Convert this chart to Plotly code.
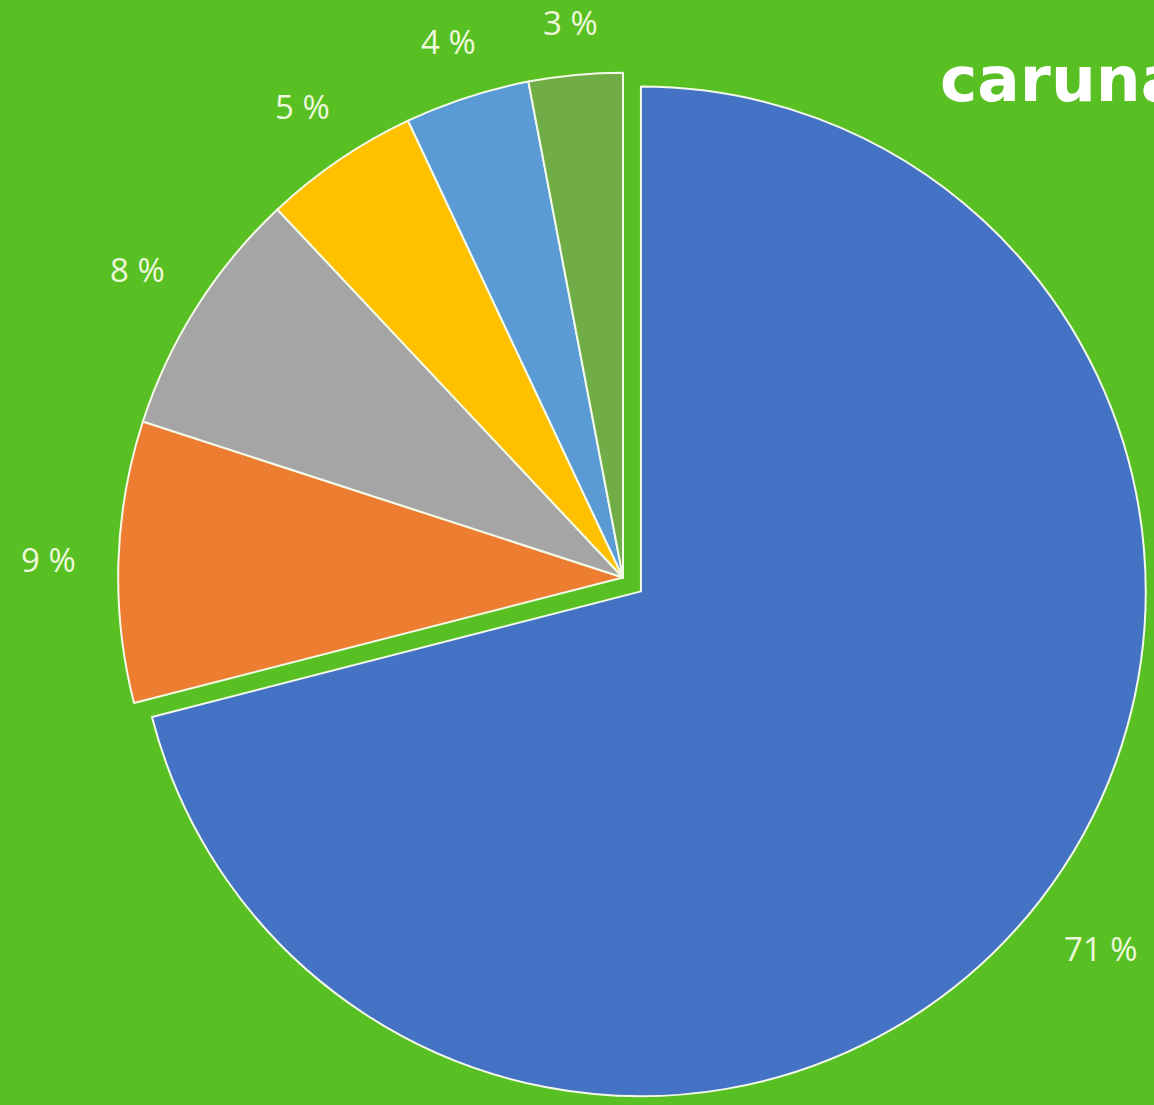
import math
import plotly.graph_objects as go

labels = ["A", "B", "C", "D", "E", "F"]
values = [71, 9, 8, 5, 4, 3]
text_labels = ["71 %", "9 %", "8 %", "5 %", "4 %", "3 %"]
colors = ["#4472C4", "#ED7D31", "#A5A5A5", "#FFC000", "#5B9BD5", "#70AD47"]
pulls = [0.045, 0, 0, 0, 0, 0]

bg = "#58C022"
W, H = 1154, 1105
dom_x = [0.0797, 1.0]
dom_y = [0.0, 0.9548]
label_size = 33
label_color = "#EEF8DC"

fig = go.Figure(go.Pie(
    labels=labels,
    values=values,
    textinfo="none",
    sort=False,
    direction="clockwise",
    rotation=0,
    pull=pulls,
    marker=dict(colors=colors, line=dict(color="#F4FAE8", width=2)),
    showlegend=False,
    hoverinfo="label+percent",
    domain=dict(x=dom_x, y=dom_y),
))

# pie geometry as Plotly lays it out (used to place the outside labels)
dw = W * (dom_x[1] - dom_x[0])
dh = H * (dom_y[1] - dom_y[0])
r = min(dw, dh) / (2 + 2 * max(pulls))
cx = W * (dom_x[0] + dom_x[1]) / 2
cy = H * (1 - dom_y[0]) - dh / 2
gap = 40
total = sum(values)
cum = 0
for v, t, p in zip(values, text_labels, pulls):
    mid = 2 * math.pi * (cum + v / 2) / total
    cum += v
    sx, sy = math.sin(mid), -math.cos(mid)
    half_w = 0.6 * label_size * len(t) / 2
    half_h = 0.3 * label_size
    extent = abs(sx) * half_w + abs(sy) * half_h
    d = r * p + r + gap + extent
    px, py = cx + d * sx, cy + d * sy
    fig.add_annotation(
        text=t, xref="paper", yref="paper", x=px / W, y=1 - py / H,
        xanchor="center", yanchor="middle", showarrow=False, borderpad=0,
        font=dict(family="Open Sans", size=label_size, color=label_color),
    )

fig.add_annotation(
    text="<b>caruna</b>", xref="paper", yref="paper",
    x=938 / W, y=1 - 80 / H, xanchor="left", yanchor="middle",
    showarrow=False, font=dict(family="DejaVu Sans", size=63, color="#FFFFFF"),
)

fig.update_layout(
    width=W, height=H,
    margin=dict(l=0, r=0, t=0, b=0),
    paper_bgcolor=bg, plot_bgcolor=bg,
)

fig.write_html("out.html")
